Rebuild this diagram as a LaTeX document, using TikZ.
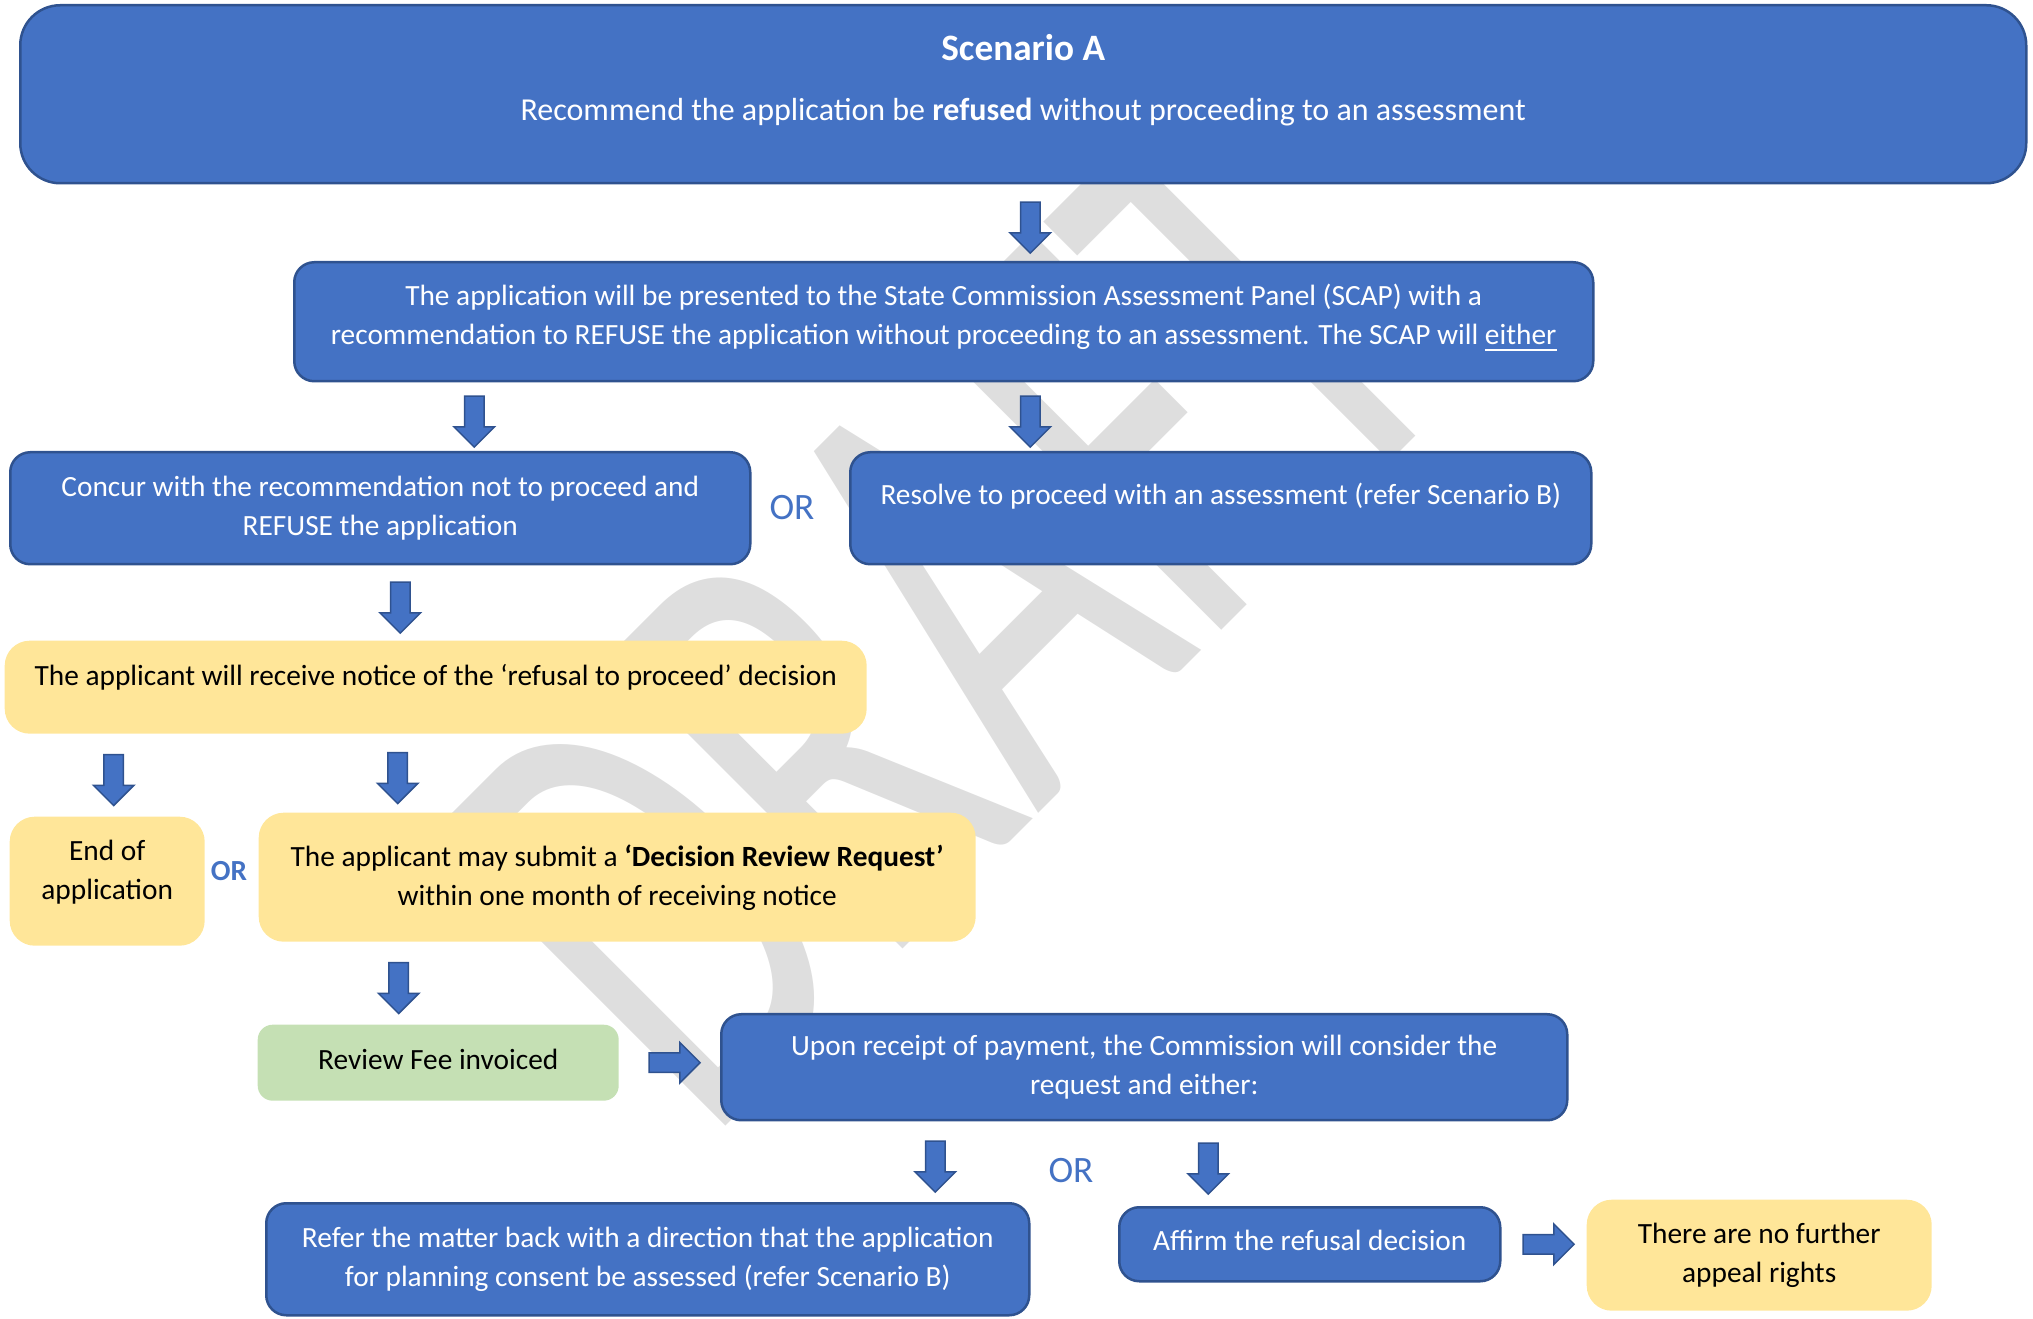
\documentclass[tikz,border=0pt]{standalone}
\usepackage{fontspec}
\setmainfont{Carlito}
\usetikzlibrary{shapes.arrows}
\definecolor{bblue}{RGB}{68,114,196}
\definecolor{bline}{RGB}{47,82,143}
\definecolor{byel}{RGB}{255,230,153}
\definecolor{bgreen}{RGB}{197,224,180}
\definecolor{wmark}{RGB}{222,222,222}

\begin{document}
\begin{tikzpicture}[x=0.1mm,y=-0.1mm,
    every node/.style={font=\fontsize{8.35}{11.1}\selectfont,inner sep=0pt},
    bbox/.style={draw=bline,line width=0.25mm,fill=bblue,text=white,rounded corners=2mm,align=center,anchor=north west},
    ybox/.style={fill=byel,rounded corners=2.5mm,align=center,anchor=north west},
    gbox/.style={fill=bgreen,rounded corners=1.5mm,align=center,anchor=north west},
    one/.style={text height=2.3mm,text depth=0.7mm+2*#1},
    one/.default=0mm,
    darr/.style={single arrow,draw=bline,fill=bblue,line width=0.15mm,inner sep=0.9mm,minimum height=5.1mm,minimum width=3.9mm,single arrow head extend=1.05mm,shape border rotate=270},
    rarr/.style={darr,shape border rotate=0},
    ortext/.style={text=bblue,font=\fontsize{10.6}{13}\selectfont},
    wm/.style={anchor=base,rotate=45,xscale=0.625,text=wmark,font=\fontsize{183.8}{220}\selectfont}]
    \useasboundingbox (0,0) rectangle (2033,1319);

    % watermark
    \node[wm] (draft) at (1090,762) {DRAFT};

    \node[bbox,rounded corners=4mm,text depth=3.4mm,minimum width=200.6mm,minimum height=17.8mm] (top) at (19,4)
        {{\fontsize{10.6}{13}\selectfont\bfseries Scenario A}\\[5.8pt]{\fontsize{9.1}{11.1}\selectfont Recommend the application be \textbf{refused} without proceeding to an assessment}};
    \node[bbox,text depth=1.4mm,minimum width=129.9mm,minimum height=11.9mm] (scap) at (293,261)
        {The application will be presented to the State Commission Assessment Panel (SCAP) with a\\
         recommendation to REFUSE the application without proceeding to an assessment. The SCAP will \underline{either}};
    \node[bbox,minimum width=74mm,minimum height=11.2mm] (concur) at (9,451)
        {Concur with the recommendation not to proceed and\\REFUSE the application};
    \node[bbox,one=1.2mm,minimum width=74.1mm,minimum height=11.2mm] (resolve) at (849,451)
        {Resolve to proceed with an assessment (refer Scenario B)};
    \node[ybox,one=1mm,minimum width=86.2mm,minimum height=9.3mm] (notice) at (4,640)
        {The applicant will receive notice of the ‘refusal to proceed’ decision};
    \node[ybox,text depth=2.2mm,minimum width=19.5mm,minimum height=12.9mm] (endapp) at (9,816)
        {End of\\application};
    \node[ybox,minimum width=71.7mm,minimum height=12.9mm] (drr) at (258,812)
        {The applicant may submit a \textbf{‘Decision Review Request’}\\within one month of receiving notice};
    \node[gbox,one=0.1mm,minimum width=36.1mm,minimum height=7.6mm] (fee) at (257,1024)
        {Review Fee invoiced};
    \node[bbox,minimum width=84.6mm,minimum height=10.6mm] (upon) at (720,1013)
        {Upon receipt of payment, the Commission will consider the\\request and either:};
    \node[bbox,minimum width=76.3mm,minimum height=11.2mm] (refer) at (265,1202)
        {Refer the matter back with a direction that the application\\for planning consent be assessed (refer Scenario B)};
    \node[bbox,one=0.2mm,minimum width=38.1mm,minimum height=7.4mm] (affirm) at (1118,1206)
        {Affirm the refusal decision};
    \node[ybox,minimum width=34.5mm,minimum height=11.1mm] (noappeal) at (1586,1199)
        {There are no further\\appeal rights};

    \node[ortext] (or1) at (792,508) {OR};
    \node[ortext,font=\fontsize{8.3}{10}\selectfont\bfseries] (or2) at (229,871) {OR};
    \node[ortext] (or3) at (1071,1171) {OR};

    % arrows
    \path ([xshift=0.7mm]top.south) -- ([xshift=0.7mm]top.south |- scap.north) node[darr,midway] (a1) {};
    \path ([xshift=-46.95mm]scap.south) -- ([xshift=-46.95mm]scap.south |- concur.north) node[darr,midway] (a2) {};
    \path ([xshift=8.65mm]scap.south) -- ([xshift=8.65mm]scap.south |- resolve.north) node[darr,midway] (a3) {};
    \path ([xshift=2mm]concur.south) -- ([xshift=2mm]concur.south |- notice.north) node[darr,midway] (a4) {};
    \path ([xshift=-32.2mm]notice.south) -- ([xshift=-32.2mm]notice.south |- endapp.north) node[darr,midway] (a5) {};
    \path ([xshift=-3.8mm]notice.south) -- ([xshift=-3.8mm]notice.south |- drr.north) node[darr,midway] (a6) {};
    \path ([xshift=-21.85mm]drr.south) -- ([xshift=-21.85mm]drr.south |- fee.north) node[darr,midway] (a7) {};
    \path (fee.east) -- (fee.east -| upon.west) node[rarr,midway] (a8) {};
    \path ([xshift=-20.9mm]upon.south) -- ([xshift=-20.9mm]upon.south |- refer.north) node[darr,midway] (a9) {};
    \path ([xshift=6.4mm]upon.south) -- ([xshift=6.4mm]upon.south |- affirm.north) node[darr,midway] (a10) {};
    \path (affirm.east) -- (affirm.east -| noappeal.west) node[rarr,midway] (a11) {};
\end{tikzpicture}
\end{document}
